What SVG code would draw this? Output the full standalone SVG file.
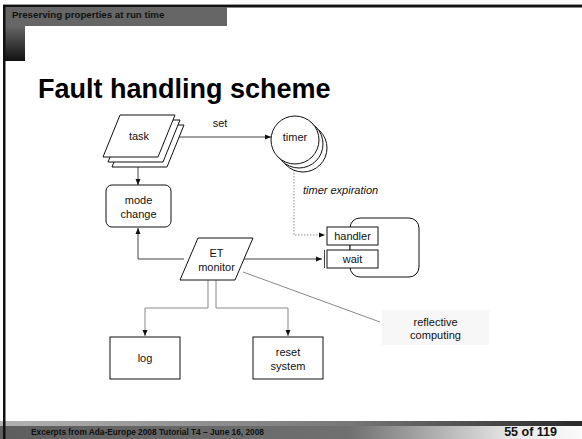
<svg xmlns="http://www.w3.org/2000/svg" width="582" height="439" viewBox="0 0 582 439">
<style>
.t{font-family:"Liberation Sans",Arial,sans-serif;font-size:11px;fill:#111;text-anchor:middle}
.s{fill:#fff;stroke:#111;stroke-width:1}
.c{fill:none;stroke:#111;stroke-width:0.8}
.g{fill:none;stroke:#888;stroke-width:1}
</style>
<defs>
<marker id="ah" viewBox="0 0 6 6" refX="6" refY="3" markerWidth="6" markerHeight="6" markerUnits="userSpaceOnUse" orient="auto">
<path d="M0,0.5 L6,3 L0,5.5 Z" fill="#111"/>
</marker>
<linearGradient id="lb" x1="0" y1="0" x2="0" y2="1">
<stop offset="0" stop-color="#666"/><stop offset="1" stop-color="#111"/>
</linearGradient>
<linearGradient id="f1" x1="0" y1="0" x2="1" y2="0">
<stop offset="0" stop-color="#b2b2b2"/><stop offset="0.6" stop-color="#777"/><stop offset="1" stop-color="#2a2a2a"/>
</linearGradient>
<linearGradient id="f2" x1="0" y1="0" x2="1" y2="0">
<stop offset="0" stop-color="#5e5e5e"/><stop offset="0.6" stop-color="#707070"/><stop offset="0.88" stop-color="#e8e8e8"/><stop offset="1" stop-color="#fafafa"/>
</linearGradient>
</defs>
<rect width="582" height="439" fill="#fff"/>
<g id="frame">
<rect x="3" y="4" width="579" height="1" fill="#999"/>
<rect x="3" y="5" width="579" height="2.5" fill="#111"/>
<rect x="5" y="7" width="222" height="19" fill="#666"/>
<rect x="5" y="26" width="20" height="35" fill="url(#lb)"/>
<rect x="0" y="421" width="582" height="5" fill="url(#f1)"/>
<rect x="0" y="426" width="582" height="13" fill="url(#f2)"/>
<rect x="3" y="5" width="2.5" height="434" fill="#111"/>
<text x="12" y="18" style="font-family:'Liberation Sans',Arial,sans-serif;font-size:9.7px;font-weight:bold;fill:#111">Preserving properties at run time</text>
<text x="31" y="435" style="font-family:'Liberation Sans',Arial,sans-serif;font-size:8.3px;font-weight:bold;fill:#111">Excerpts from Ada-Europe 2008 Tutorial T4 – June 16, 2008</text>
<text x="557" y="435.5" style="font-family:'Liberation Sans',Arial,sans-serif;font-size:12.5px;font-weight:bold;fill:#111;text-anchor:end">55 of 119</text>
</g>
<text x="38" y="98" style="font-family:'Liberation Sans',Arial,sans-serif;font-size:27px;font-weight:bold;fill:#000">Fault handling scheme</text>
<g id="connectors">
<line class="c" x1="179" y1="137" x2="271" y2="137" marker-end="url(#ah)"/>
<line class="c" x1="138" y1="167" x2="138" y2="185" marker-end="url(#ah)"/>
<polyline class="c" points="184,259 138,259 138,228" marker-end="url(#ah)"/>
<line class="c" x1="244" y1="259" x2="322" y2="259" marker-end="url(#ah)"/>
<polyline fill="none" stroke="#777" stroke-width="0.8" stroke-dasharray="1.5,1.5" points="294,164 294,235 325,235" marker-end="url(#ah)"/>
<line class="g" x1="243" y1="272" x2="380" y2="322"/>
<polyline class="g" points="208,280 208,308 145,308 145,336" marker-end="url(#ah)"/>
<polyline class="g" points="216,280 216,308 288,308 288,336" marker-end="url(#ah)"/>
<line class="c" x1="350" y1="245" x2="350" y2="250"/>
<text class="t" x="220" y="127">set</text>
<text class="t" x="303" y="194" style="text-anchor:start;font-style:italic">timer expiration</text>
</g>
<g id="task">
<polygon class="s" points="129,125 184,125 167,167 112,167"/>
<polygon class="s" points="125,120 180,120 163,162 108,162"/>
<polygon class="s" points="120,115 175,115 158,157 103,157"/>
<text class="t" x="139" y="140">task</text>
</g>
<g id="timer">
<circle class="s" cx="303" cy="148" r="24"/>
<circle class="s" cx="299" cy="144" r="24"/>
<circle class="s" cx="295" cy="140" r="24"/>
<text class="t" x="295" y="141">timer</text>
</g>
<g id="mode-change">
<rect class="s" x="106" y="185" width="65" height="42" rx="6"/>
<text class="t" x="138.5" y="204">mode</text>
<text class="t" x="138.5" y="218">change</text>
</g>
<g id="et-monitor">
<polygon class="s" points="198,238 253,238 235,280 180,280"/>
<text class="t" x="216.5" y="257">ET</text>
<text class="t" x="216.5" y="271">monitor</text>
</g>
<g id="handler-task">
<rect class="s" x="350" y="218" width="69" height="59" rx="10"/>
</g>
<g id="handler">
<rect class="s" x="327" y="227" width="51" height="18"/>
<text class="t" x="352.5" y="240">handler</text>
</g>
<g id="wait">
<rect class="s" x="327" y="250" width="51" height="18"/>
<line class="c" x1="324.5" y1="250" x2="324.5" y2="268"/>
<text class="t" x="352.5" y="263">wait</text>
</g>
<g id="log">
<rect class="s" x="110" y="337" width="70" height="42"/>
<text class="t" x="145" y="362">log</text>
</g>
<g id="reset-system">
<rect class="s" x="253" y="337" width="70" height="42"/>
<text class="t" x="288" y="356">reset</text>
<text class="t" x="288" y="370">system</text>
</g>
<g id="reflective-computing">
<rect x="382" y="310" width="107" height="35" fill="#f7f7f7"/>
<text class="t" x="435.5" y="326">reflective</text>
<text class="t" x="435.5" y="339">computing</text>
</g>
</svg>
